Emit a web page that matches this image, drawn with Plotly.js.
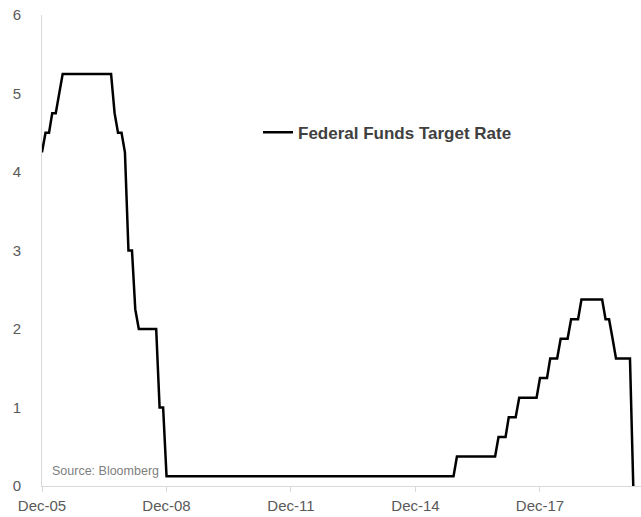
<!DOCTYPE html>
<html>
<head>
<meta charset="utf-8">
<script src="https://cdn.plot.ly/plotly-3.0.1.min.js"></script>
<style>html,body{margin:0;padding:0;background:#fff;}#chart{width:641px;height:517px;}</style>
</head>
<body>
<div id="chart"></div>
<script>
const months = [
 '2005-12',
 '2006-01','2006-02','2006-03','2006-04','2006-05','2006-06','2006-07','2006-08','2006-09','2006-10','2006-11','2006-12',
 '2007-01','2007-02','2007-03','2007-04','2007-05','2007-06','2007-07','2007-08','2007-09','2007-10','2007-11','2007-12',
 '2008-01','2008-02','2008-03','2008-04','2008-05','2008-06','2008-07','2008-08','2008-09','2008-10','2008-11','2008-12',
 '2009-01','2009-02','2009-03','2009-04','2009-05','2009-06','2009-07','2009-08','2009-09','2009-10','2009-11','2009-12',
 '2010-01','2010-02','2010-03','2010-04','2010-05','2010-06','2010-07','2010-08','2010-09','2010-10','2010-11','2010-12',
 '2011-01','2011-02','2011-03','2011-04','2011-05','2011-06','2011-07','2011-08','2011-09','2011-10','2011-11','2011-12',
 '2012-01','2012-02','2012-03','2012-04','2012-05','2012-06','2012-07','2012-08','2012-09','2012-10','2012-11','2012-12',
 '2013-01','2013-02','2013-03','2013-04','2013-05','2013-06','2013-07','2013-08','2013-09','2013-10','2013-11','2013-12',
 '2014-01','2014-02','2014-03','2014-04','2014-05','2014-06','2014-07','2014-08','2014-09','2014-10','2014-11','2014-12',
 '2015-01','2015-02','2015-03','2015-04','2015-05','2015-06','2015-07','2015-08','2015-09','2015-10','2015-11','2015-12',
 '2016-01','2016-02','2016-03','2016-04','2016-05','2016-06','2016-07','2016-08','2016-09','2016-10','2016-11','2016-12',
 '2017-01','2017-02','2017-03','2017-04','2017-05','2017-06','2017-07','2017-08','2017-09','2017-10','2017-11','2017-12',
 '2018-01','2018-02','2018-03','2018-04','2018-05','2018-06','2018-07','2018-08','2018-09','2018-10','2018-11','2018-12',
 '2019-01','2019-02','2019-03','2019-04','2019-05','2019-06','2019-07','2019-08','2019-09','2019-10','2019-11','2019-12',
 '2020-01','2020-02','2020-03'
];

const rates = [
 4.25,
 4.5,4.5,4.75,4.75,5.0,5.25,5.25,5.25,5.25,5.25,5.25,5.25,
 5.25,5.25,5.25,5.25,5.25,5.25,5.25,5.25,4.75,4.5,4.5,4.25,
 3.0,3.0,2.25,2.0,2.0,2.0,2.0,2.0,2.0,1.0,1.0,0.125,
 0.125,0.125,0.125,0.125,0.125,0.125,0.125,0.125,0.125,0.125,0.125,0.125,
 0.125,0.125,0.125,0.125,0.125,0.125,0.125,0.125,0.125,0.125,0.125,0.125,
 0.125,0.125,0.125,0.125,0.125,0.125,0.125,0.125,0.125,0.125,0.125,0.125,
 0.125,0.125,0.125,0.125,0.125,0.125,0.125,0.125,0.125,0.125,0.125,0.125,
 0.125,0.125,0.125,0.125,0.125,0.125,0.125,0.125,0.125,0.125,0.125,0.125,
 0.125,0.125,0.125,0.125,0.125,0.125,0.125,0.125,0.125,0.125,0.125,0.125,
 0.125,0.125,0.125,0.125,0.125,0.125,0.125,0.125,0.125,0.125,0.125,0.375,
 0.375,0.375,0.375,0.375,0.375,0.375,0.375,0.375,0.375,0.375,0.375,0.625,
 0.625,0.625,0.875,0.875,0.875,1.125,1.125,1.125,1.125,1.125,1.125,1.375,
 1.375,1.375,1.625,1.625,1.625,1.875,1.875,1.875,2.125,2.125,2.125,2.375,
 2.375,2.375,2.375,2.375,2.375,2.375,2.125,2.125,1.875,1.625,1.625,1.625,
 1.625,1.625,0
];

const seriesName = 'Federal Funds Target Rate';
const xTickVals = ['2005-12','2008-12','2011-12','2014-12','2017-12'];
const xTickText = ['Dec-05','Dec-08','Dec-11','Dec-14','Dec-17'];
const yTickVals = [0,1,2,3,4,5,6];
const sourceText = 'Source: Bloomberg';

const fontFamily = '"Liberation Sans", Arial, sans-serif';

const trace = {
  x: months,
  y: rates,
  type: 'scatter',
  mode: 'lines',
  name: seriesName,
  line: {color: '#000000', width: 2.5, shape: 'linear'}
};

const layout = {
  width: 641,
  height: 517,
  margin: {l: 42, r: 0, t: 15, b: 31, pad: 0},
  paper_bgcolor: '#ffffff',
  plot_bgcolor: '#ffffff',
  font: {family: fontFamily, color: '#595959', size: 15},
  showlegend: true,
  legend: {
    x: 0.3606, y: 0.75, xanchor: 'left', yanchor: 'middle',
    bgcolor: 'rgba(0,0,0,0)',
    font: {family: fontFamily, size: 17, color: '#404040', weight: 700}
  },
  xaxis: {
    type: 'date',
    range: ['2005-12-01', '2020-05-08'],
    showline: true, linecolor: '#d9d9d9', linewidth: 1,
    showgrid: false, zeroline: false,
    ticks: 'outside', ticklen: 5, tickcolor: '#d9d9d9', tickwidth: 1,
    tickmode: 'array', tickvals: xTickVals, ticktext: xTickText,
    tickfont: {family: fontFamily, size: 15, color: '#595959'},
    ticklabelstandoff: 1
  },
  yaxis: {
    range: [0, 6],
    showline: true, linecolor: '#d9d9d9', linewidth: 1,
    showgrid: false, zeroline: false,
    ticks: '',
    tickmode: 'array', tickvals: yTickVals,
    tickfont: {family: fontFamily, size: 15, color: '#595959'},
    ticklabelstandoff: 17
  },
  annotations: [{
    text: sourceText,
    xref: 'paper', yref: 'y',
    x: 0.0134, y: 0.19, xanchor: 'left', yanchor: 'middle',
    showarrow: false,
    font: {family: fontFamily, size: 12.5, color: '#808080'}
  }]
};

Plotly.newPlot('chart', [trace], layout, {displayModeBar: false, staticPlot: true});
</script>
</body>
</html>
